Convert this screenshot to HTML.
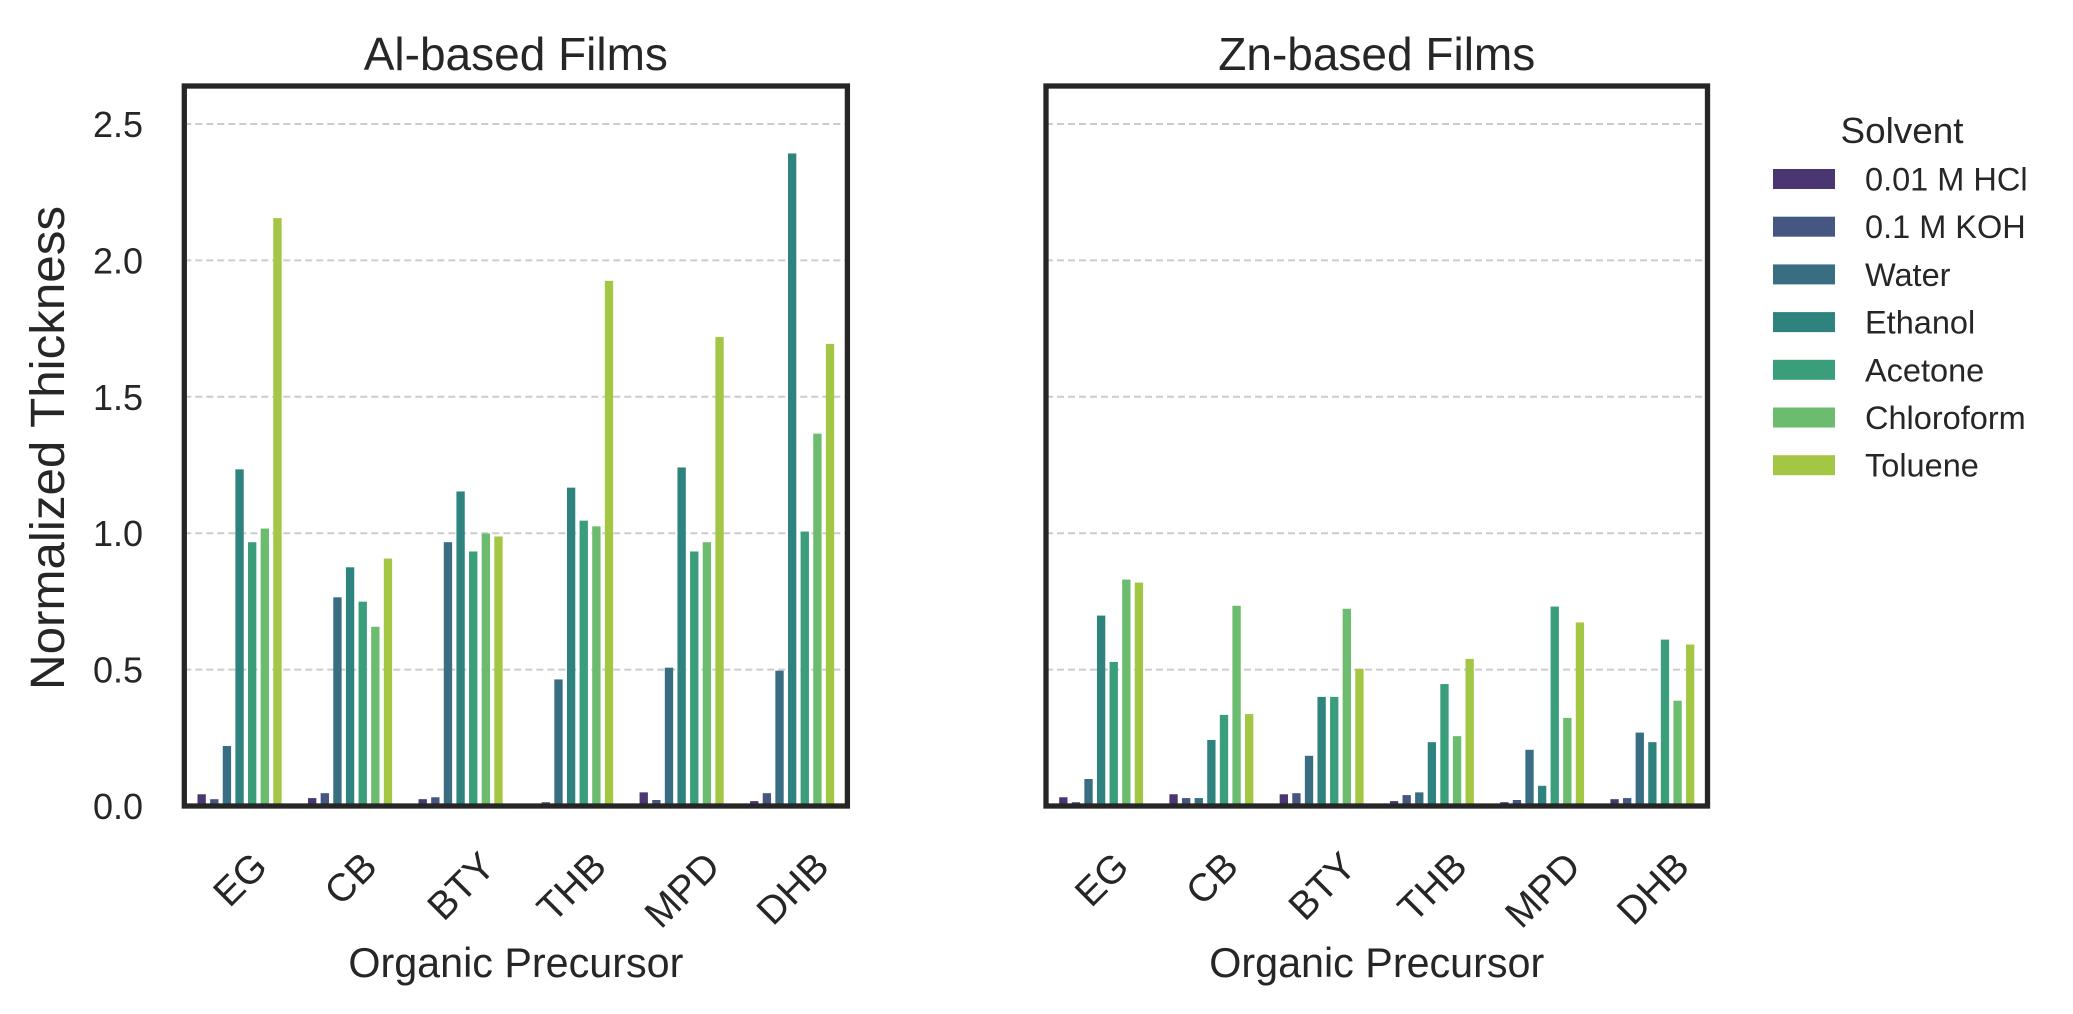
<!DOCTYPE html>
<html><head><meta charset="utf-8">
<style>
html,body{margin:0;padding:0;background:#fff;}
svg{display:block;font-family:"Liberation Sans",Arial,sans-serif;}
</style></head>
<body>
<svg id="chart" width="2073" height="1014" viewBox="0 0 2073 1014" xmlns="http://www.w3.org/2000/svg">
  <rect x="0" y="0" width="2073" height="1014" fill="#fff"/>
  <g id="panels"></g>
  <text x="0" y="0" transform="translate(64,448) rotate(-90)" text-anchor="middle" font-size="48" fill="#262626" textLength="484" lengthAdjust="spacingAndGlyphs">Normalized Thickness</text>
  <g id="legend">
    <text x="1902" y="143" text-anchor="middle" font-size="36" fill="#262626" textLength="123" lengthAdjust="spacingAndGlyphs">Solvent</text>
  </g>
</svg>
<script>
const categories = ["EG","CB","BTY","THB","MPD","DHB"];
const solvents = ["0.01 M HCl","0.1 M KOH","Water","Ethanol","Acetone","Chloroform","Toluene"];
const colors = ["#4a3771","#455681","#386d82","#2f837f","#3a9e7b","#6bbc6e","#a3c745"];
const yTicks = [0.0,0.5,1.0,1.5,2.0,2.5];
const yTickLabels = ["0.0","0.5","1.0","1.5","2.0","2.5"];
// Al-based values
const alHCl      = [0.043,0.029,0.025,0.007,0.050,0.018];
const alKOH      = [0.025,0.047,0.032,0.014,0.022,0.047];
const alWater    = [0.220,0.765,0.967,0.464,0.507,0.496];
const alEthanol  = [1.234,0.875,1.153,1.167,1.241,2.392];
const alAcetone  = [0.967,0.749,0.933,1.046,0.933,1.006];
const alChloro   = [1.017,0.657,0.999,1.025,0.967,1.365];
const alToluene  = [2.155,0.907,0.988,1.925,1.719,1.694];
// Zn-based values
const znHCl      = [0.032,0.043,0.043,0.018,0.014,0.025];
const znKOH      = [0.014,0.029,0.047,0.040,0.022,0.029];
const znWater    = [0.099,0.029,0.184,0.050,0.206,0.269];
const znEthanol  = [0.698,0.242,0.400,0.234,0.074,0.234];
const znAcetone  = [0.528,0.334,0.400,0.447,0.731,0.610];
const znChloro   = [0.830,0.734,0.723,0.256,0.323,0.386];
const znToluene  = [0.819,0.337,0.503,0.539,0.673,0.592];

const alSeries = [alHCl,alKOH,alWater,alEthanol,alAcetone,alChloro,alToluene];
const znSeries = [znHCl,znKOH,znWater,znEthanol,znAcetone,znChloro,znToluene];

const NS = "http://www.w3.org/2000/svg";
const Y0 = 806, Y25 = 124, TOP = 86;
function yScale(v){ return Y0 - (v/2.5)*(Y0-Y25); }
function mk(tag, attrs, parent){
  const e = document.createElementNS(NS, tag);
  for (const k in attrs) e.setAttribute(k, attrs[k]);
  parent.appendChild(e);
  return e;
}
const panelsG = document.getElementById('panels');

function drawPanel(left, right, title, series, showY, key){
  const g = mk('g', {}, panelsG);
  
  
  const C = (right-left)/categories.length;
  function xCenter(i){ return left + (i+0.5)*C; }
  for (let t = 1; t < yTicks.length; t++){
    const y = yScale(yTicks[t]);
    const ln = mk('line', {x1:left, x2:right, y1:y, y2:y, stroke:'#cccccc', 'stroke-width':2, 'stroke-dasharray':'7,4'}, g);
    
    
  }
  const slot = 0.8*C/solvents.length;
  const bw = slot*0.66;
  for (let s = 0; s < series.length; s++){
    for (let i = 0; i < categories.length; i++){
      const v = series[s][i];
      const cx = xCenter(i) - 0.4*C + (s+0.5)*slot;
      const y = yScale(v);
      const r = mk('rect', {x:cx-bw/2, y:y, width:bw, height:Math.max(0,Y0-y), fill:colors[s]}, g);
      
      
    }
  }
  const fr = mk('rect', {x:left, y:TOP, width:right-left, height:Y0-TOP, fill:'none', stroke:'#262626', 'stroke-width':5.3}, g);
  
  
  const tt = mk('text', {x:(left+right)/2, y:70, 'text-anchor':'middle', 'font-size':46, fill:'#262626'}, g);
  tt.textContent = title;
  
  
  if (showY){
    for (let t = 0; t < yTicks.length; t++){
      const lb = mk('text', {x:143, y:yScale(yTicks[t])+13, 'text-anchor':'end', 'font-size':36, fill:'#262626'}, g);
      lb.textContent = yTickLabels[t];
      
      
    }
  }
  const fs = 39;
  for (let i = 0; i < categories.length; i++){
    const lb = mk('text', {x:0, y:0, 'text-anchor':'middle', 'font-size':fs, fill:'#262626'}, g);
    lb.textContent = categories[i];
    
    
    const w = lb.getComputedTextLength();
    const h = 0.716*fs;
    const bh = (w + h)/Math.SQRT2;
    const cy = 849 + bh/2;
    const cx = xCenter(i);
    lb.setAttribute('transform', 'translate(' + cx + ',' + cy + ') rotate(-45)');
    lb.setAttribute('y', h/2);
  }
  const xt = mk('text', {x:(left+right)/2, y:977, 'text-anchor':'middle', 'font-size':41.6, fill:'#262626', textLength:335, lengthAdjust:'spacingAndGlyphs'}, g);
  xt.textContent = 'Organic Precursor';
  
  
}
drawPanel(184.3, 847.4, 'Al-based Films', alSeries, true, 'al');
drawPanel(1046, 1707.5, 'Zn-based Films', znSeries, false, 'zn');

const legG = document.getElementById('legend');
for (let s = 0; s < solvents.length; s++){
  const cy = 179 + s*47.7;
  const e = mk('g', {}, legG);
  
  
  const sw = mk('rect', {x:1773, y:cy-10, width:62, height:20, fill:colors[s]}, e);
  
  
  const tx = mk('text', {x:1865, y:cy+11.5, 'font-size':32.5, fill:'#262626'}, e);
  tx.textContent = solvents[s];
  
  
}
</script>
</body></html>
